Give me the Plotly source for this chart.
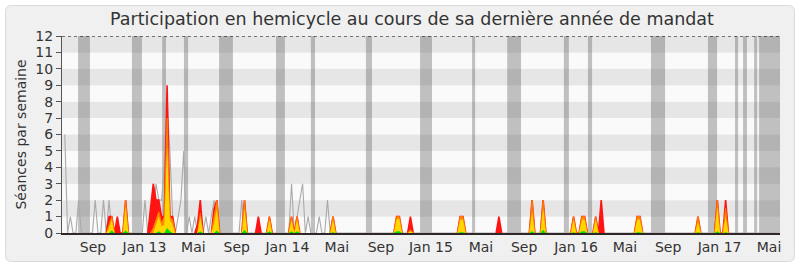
import plotly.graph_objects as go

# Semaines de la législature (index 0 = mi-juin 2012)
N_SEMAINES = 259
semaines = list(range(N_SEMAINES))

# Valeurs non nulles, séances par semaine, indexées par semaine
mediane = {0: 6, 2: 1, 5: 2, 11: 2, 14: 2, 16: 2, 29: 2, 32: 1, 33: 3, 34: 2,
           35: 2, 36: 4, 37: 8, 38: 5, 39: 1, 41: 1, 42: 2, 43: 5, 45: 1,
           47: 1, 51: 1, 53: 1, 54: 2, 64: 2, 82: 3, 84: 1, 85: 2, 86: 3,
           88: 1, 92: 1, 95: 2}

presences = {16: 1, 17: 1, 19: 1, 22: 2, 31: 1.5, 32: 3, 33: 2, 34: 2, 35: 1,
             36: 1, 37: 9, 38: 1, 39: 1, 48: 0.5, 49: 2, 54: 1.5, 55: 2,
             65: 2, 70: 1, 74: 1, 82: 1, 84: 1, 97: 1, 120: 1, 121: 1,
             125: 1, 143: 1, 144: 1, 157: 1, 169: 2, 173: 2, 184: 1, 187: 1,
             188: 1, 192: 1, 194: 2, 207: 1, 208: 1, 229: 1, 236: 2, 239: 2}

participations = {16: 0.5, 17: 1, 22: 2, 32: 0.3, 33: 0.8, 34: 1.3, 35: 0.6,
                  36: 1, 37: 7, 38: 1, 39: 0.8, 49: 1.2, 54: 1, 55: 2, 65: 2,
                  74: 1, 82: 1, 84: 1, 97: 1, 120: 1, 121: 1, 125: 0.2,
                  143: 1, 144: 1, 169: 2, 173: 2, 184: 1, 187: 1, 188: 1,
                  192: 1, 207: 1, 208: 1, 229: 1, 236: 2, 239: 1.5}

interventions = {16: 0.3, 17: 0.8, 22: 1.6, 33: 0.5, 34: 1, 35: 0.4, 36: 0.5,
                 37: 5.3, 38: 0.8, 39: 0.5, 49: 1, 54: 0.6, 55: 1.5, 65: 1.5,
                 74: 0.8, 82: 0.8, 84: 0.8, 97: 0.8, 120: 0.85, 121: 0.85,
                 125: 0.1, 143: 0.8, 144: 0.8, 169: 1.3, 173: 1.5, 184: 0.8,
                 187: 0.8, 188: 0.8, 192: 0.8, 207: 0.8, 208: 0.8, 229: 0.7,
                 236: 1.6, 239: 1}

questions = {17: 0.15, 22: 0.15, 34: 0.1, 37: 0.3, 38: 0.1, 49: 0.1, 55: 0.15,
             65: 0.2, 74: 0.1, 82: 0.1, 84: 0.1, 97: 0.05, 120: 0.1, 121: 0.1,
             143: 0.05, 144: 0.05, 169: 0.1, 173: 0.2, 184: 0.05, 187: 0.1,
             188: 0.1, 192: 0.05, 207: 0.05, 208: 0.05, 229: 0.05, 236: 0.1,
             239: 0.05}

# Périodes de vacances parlementaires (en semaines)
vacances_debut = [4.8, 24.3, 35.2, 43.1, 55.8, 76.4, 89.0, 108.9, 128.5, 147.3,
                  160.0, 180.5, 189.2, 212.0, 232.6, 242.4, 245.3, 249.3, 251.1]
vacances_fin = [9.1, 27.9, 36.6, 44.6, 60.8, 79.6, 90.5, 111.1, 132.8, 148.4,
                165.0, 182.3, 190.7, 217.1, 235.9, 243.5, 246.7, 250.4, 258.7]

# Graduations de l'axe des abscisses
mois_semaines = [10.2, 28.8, 46.5, 62.2, 80.5, 98.4, 114.3, 132.4, 150.5,
                 166.1, 184.9, 202.6, 218.2, 236.8, 254.7]
mois_labels = ["Sep", "Jan 13", "Mai", "Sep", "Jan 14", "Mai", "Sep", "Jan 15",
               "Mai", "Sep", "Jan 16", "Mai", "Sep", "Jan 17", "Mai"]

Y_MAX = 12
X_MIN, X_MAX = -1.01, 258.66


def serie(valeurs):
    return [valeurs.get(s, 0) for s in semaines]


def contour(valeurs):
    """Points du tracé de contour : on omet les zéros isolés pour ne pas
    dessiner de trait le long de la ligne de base."""
    v = serie(valeurs)
    out = []
    for i, val in enumerate(v):
        voisins = v[max(i - 1, 0):i + 2]
        out.append(val if any(voisins) else None)
    return out


W, H = 800, 267
ML, MR, MT, MB = 62, 20, 36, 34
PW, PH = W - ML - MR, H - MT - MB


def px(x):
    return (x - ML) / PW


def py(y):
    return (H - MB - y) / PH


FONT = "DejaVu Sans"
fig = go.Figure()


def aire(valeurs, couleur, trait=None, largeur=0):
    fig.add_trace(go.Scatter(x=semaines, y=serie(valeurs), mode="lines",
                             fill="tozeroy", fillcolor=couleur,
                             line=dict(color=couleur, width=0), hoverinfo="skip"))
    if trait:
        fig.add_trace(go.Scatter(x=semaines, y=contour(valeurs), mode="lines",
                                 connectgaps=False,
                                 line=dict(color=trait, width=largeur),
                                 hoverinfo="skip"))


fig.add_trace(go.Scatter(x=semaines, y=serie(mediane), mode="lines",
                         line=dict(color="#aaaaaa", width=1.1), hoverinfo="skip"))
aire(presences, "#ff1414", "#ff1414", 1.6)
aire(participations, "#ff8c00", "#ff7a00", 1)
aire(interventions, "#ffd700")
aire(questions, "#00e000")

shapes = []
# cadre arrondi autour du graphique
x0, x1, y0, y1, r = 5.5, 794.5, 5.5, 261.5, 6
path = (f"M {px(x0 + r)} {py(y0)} L {px(x1 - r)} {py(y0)} "
        f"Q {px(x1)} {py(y0)} {px(x1)} {py(y0 + r)} "
        f"L {px(x1)} {py(y1 - r)} Q {px(x1)} {py(y1)} {px(x1 - r)} {py(y1)} "
        f"L {px(x0 + r)} {py(y1)} Q {px(x0)} {py(y1)} {px(x0)} {py(y1 - r)} "
        f"L {px(x0)} {py(y0 + r)} Q {px(x0)} {py(y0)} {px(x0 + r)} {py(y0)} Z")
shapes.append(dict(type="path", path=path, xref="paper", yref="paper",
                   fillcolor="#f0f0f0", line=dict(color="#dadada", width=1),
                   layer="below"))
# bandes horizontales alternées
for k in range(Y_MAX):
    shapes.append(dict(type="rect", xref="x", yref="y", x0=X_MIN, x1=X_MAX,
                       y0=k, y1=k + 1, line=dict(width=0), layer="below",
                       fillcolor="#e6e6e6" if k % 2 else "#fafafa"))
# vacances parlementaires
for d, f in zip(vacances_debut, vacances_fin):
    shapes.append(dict(type="rect", xref="x", yref="y", x0=d, x1=f,
                       y0=0, y1=Y_MAX, line=dict(width=0), layer="below",
                       fillcolor="rgba(90,90,90,0.36)"))
# ligne pointillée du maximum
shapes.append(dict(type="line", xref="x", yref="y", x0=X_MIN, x1=X_MAX,
                   y0=Y_MAX, y1=Y_MAX, line=dict(color="#000", width=1, dash="dot")))

fig.update_layout(
    width=W, height=H,
    margin=dict(l=ML, r=MR, t=MT, b=MB, autoexpand=False),
    paper_bgcolor="white", plot_bgcolor="#fafafa",
    showlegend=False,
    font=dict(family=FONT, color="#333"),
    title=dict(text="Participation en hemicycle au cours de sa dernière année de mandat",
               font=dict(family=FONT, size=17.5, color="#333"),
               x=0.515, xanchor="center", xref="container",
               y=1 - 18.5 / H, yanchor="middle", yref="container"),
    shapes=shapes,
    xaxis=dict(range=[X_MIN, X_MAX], tickmode="array", tickvals=mois_semaines,
               ticktext=mois_labels, ticks="", showgrid=False, zeroline=False,
               showline=True, linecolor="#302828", linewidth=1.5,
               tickfont=dict(family=FONT, size=14, color="#333")),
    yaxis=dict(range=[0, Y_MAX], tickmode="array", tickvals=list(range(Y_MAX + 1)),
               ticks="outside", ticklen=5, tickcolor="#555", showgrid=False,
               zeroline=False, showline=True, linecolor="#555", linewidth=1,
               tickfont=dict(family=FONT, size=14, color="#333"),
               title=dict(text="Séances par semaine", standoff=5,
                          font=dict(family=FONT, size=14, color="#333"))),
)

fig.write_html("out.html")
